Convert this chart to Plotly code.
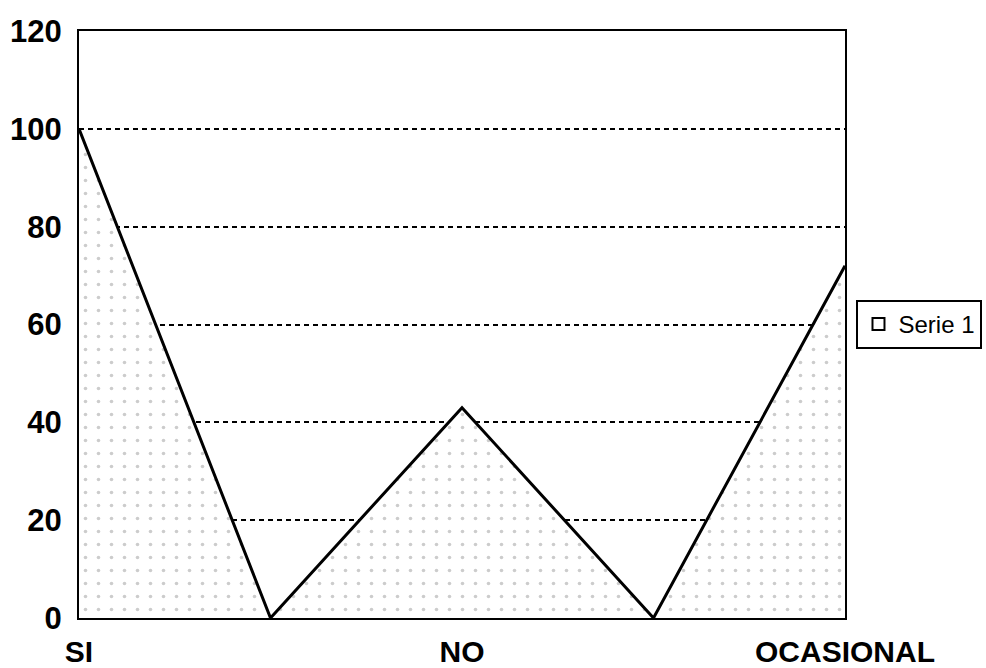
import plotly.graph_objects as go

# Data
x_labels = ["SI", "NO", "OCASIONAL"]
x_label_pos = [0, 2, 4]
x_points = [0, 1, 2, 3, 4]
serie1 = [100, 0, 43, 0, 72]
y_ticks = [0, 20, 40, 60, 80, 100, 120]
series_name = "Serie 1"

FONT = "Liberation Sans, Arial, sans-serif"

fig = go.Figure()
fig.add_trace(go.Scatter(
    x=x_points, y=serie1, mode="lines",
    line=dict(color="black", width=3),
    fill="tozeroy",
    fillcolor="white",
    fillpattern=dict(shape=".", fgcolor="#9a9a9a", bgcolor="white", size=13, solidity=0.06),
    showlegend=False, hoverinfo="skip",
))
# legend entry
fig.add_trace(go.Scatter(
    x=[None], y=[None], mode="markers", name=series_name,
    marker=dict(symbol="square-open", size=16, color="black", line=dict(width=1.5, color="black")),
))

fig.update_layout(
    width=986, height=668,
    margin=dict(l=79, r=141, t=31, b=50, autoexpand=False),
    paper_bgcolor="white", plot_bgcolor="white",
    font=dict(family=FONT, color="black"),
    legend=dict(
        x=1.015, xanchor="left", y=0.5, yanchor="middle",
        bordercolor="black", borderwidth=2,
        font=dict(size=24, family=FONT),
        itemsizing="constant",
        tracegroupgap=0,
    ),
)
fig.update_xaxes(
    range=[0, 4], tickmode="array", tickvals=x_label_pos, ticktext=x_labels,
    showgrid=False, zeroline=False, automargin=False,
    showline=True, linecolor="black", linewidth=2, mirror=True,
    ticks="", ticklabelstandoff=6,
    tickfont=dict(size=30, family=FONT, weight="bold"),
)
fig.update_yaxes(
    range=[0, 120], tickmode="array", tickvals=y_ticks,
    showgrid=True, gridcolor="black", griddash="5px,4px", gridwidth=2,
    zeroline=False, automargin=False,
    showline=True, linecolor="black", linewidth=2, mirror=True,
    ticks="", ticklabelstandoff=9,
    tickfont=dict(size=31, family=FONT, weight="bold"),
)

fig.write_html("out.html")
